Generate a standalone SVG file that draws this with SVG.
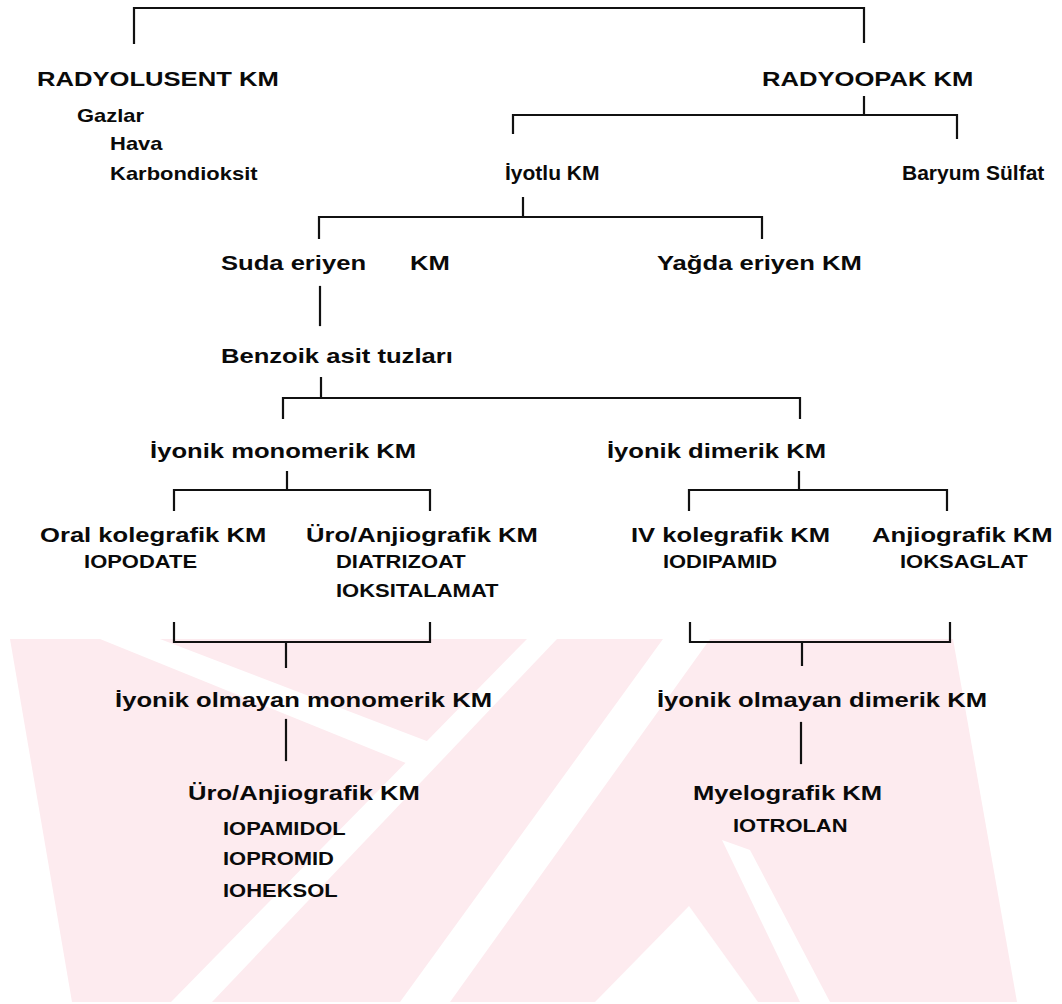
<svg xmlns="http://www.w3.org/2000/svg" width="1062" height="1004" viewBox="0 0 1062 1004">
<style>
.h{font-family:"Liberation Sans",Arial,sans-serif;font-weight:bold;font-size:21px;fill:#0a0a0a}
.s{font-family:"Liberation Sans",Arial,sans-serif;font-weight:bold;font-size:18px;fill:#0a0a0a}
.c{fill:none;stroke:#111;stroke-width:2.2;stroke-linecap:square;stroke-linejoin:miter}
.wm{fill:#fdebef}
.wh{fill:#ffffff}
</style>
<rect width="1062" height="1004" fill="#ffffff"/>
<g id="watermark">
<polygon class="wm" points="10,639 953,639 1017,1002 72,1002"/>
<polygon class="wh" points="100,639 160,639 445,748 428,772"/>
<polygon class="wh" points="527,639 557,639 212,1002 171,1002"/>
<polygon class="wh" points="663,639 710,639 450,1002 400,1002"/>
<polygon class="wh" points="689,906 758,1002 595,1002"/>
<polygon class="wh" points="722,840 750,850 830,1002 800,1002"/>
</g>
<g id="connectors">
<path class="c" d="M134,43 V8 H864 V42"/>
<path class="c" d="M864,97 V115 M513,133 V115 H957 V138"/>
<path class="c" d="M523,198 V217 M319,238 V217 H762 V238"/>
<path class="c" d="M320,287 V325"/>
<path class="c" d="M321,378 V398 M283,418 V398 H800 V418"/>
<path class="c" d="M287,472 V490 M174,510 V490 H430 V510"/>
<path class="c" d="M799,472 V490 M689,510 V490 H947 V510"/>
<path class="c" d="M174,623 V642 H430 V623 M286,642 V667"/>
<path class="c" d="M690,623 V642 H950 V623 M802,642 V665"/>
<path class="c" d="M286,720 V760"/>
<path class="c" d="M801,723 V763"/>
</g>
<g id="n-iyotlu"><text class="h" x="505" y="180">İyotlu KM</text></g>
<g id="n-baryum"><text class="h" x="902" y="180">Baryum Sülfat</text></g>
<g id="nodes" transform="scale(1.22,1)">
<g id="n-radyolusent"><text class="h" x="30.3" y="86">RADYOLUSENT KM</text>
<text class="s" x="63.1" y="122">Gazlar</text>
<text class="s" x="90.2" y="150">Hava</text>
<text class="s" x="90.2" y="180">Karbondioksit</text></g>
<g id="n-radyoopak"><text class="h" x="624.6" y="86">RADYOOPAK KM</text></g>
<g id="n-suda"><text class="h" x="181.1" y="270">Suda eriyen</text><text class="h" x="336.1" y="270">KM</text></g>
<g id="n-yagda"><text class="h" x="538.5" y="270">Yağda eriyen KM</text></g>
<g id="n-benzoik"><text class="h" x="181.1" y="363">Benzoik asit tuzları</text></g>
<g id="n-iyonik-mono"><text class="h" x="123" y="458">İyonik monomerik KM</text></g>
<g id="n-iyonik-di"><text class="h" x="497.5" y="458">İyonik dimerik KM</text></g>
<g id="n-oral"><text class="h" x="32.8" y="542">Oral kolegrafik KM</text>
<text class="s" x="68.9" y="568">IOPODATE</text></g>
<g id="n-uro1"><text class="h" x="250.8" y="542">Üro/Anjiografik KM</text>
<text class="s" x="275.4" y="568">DIATRIZOAT</text>
<text class="s" x="275.4" y="597">IOKSITALAMAT</text></g>
<g id="n-iv"><text class="h" x="517.2" y="542">IV kolegrafik KM</text>
<text class="s" x="543.4" y="568">IODIPAMID</text></g>
<g id="n-anjio"><text class="h" x="714.8" y="542">Anjiografik KM</text>
<text class="s" x="737.7" y="568">IOKSAGLAT</text></g>
<g id="n-nonionic-mono"><text class="h" x="94.3" y="707">İyonik olmayan monomerik KM</text></g>
<g id="n-nonionic-di"><text class="h" x="538.5" y="707">İyonik olmayan dimerik KM</text></g>
<g id="n-uro2"><text class="h" x="154.1" y="800">Üro/Anjiografik KM</text>
<text class="s" x="182.8" y="835">IOPAMIDOL</text>
<text class="s" x="182.8" y="865">IOPROMID</text>
<text class="s" x="182.8" y="897">IOHEKSOL</text></g>
<g id="n-myelo"><text class="h" x="568" y="800">Myelografik KM</text>
<text class="s" x="600.8" y="832">IOTROLAN</text></g>
</g>
</svg>
